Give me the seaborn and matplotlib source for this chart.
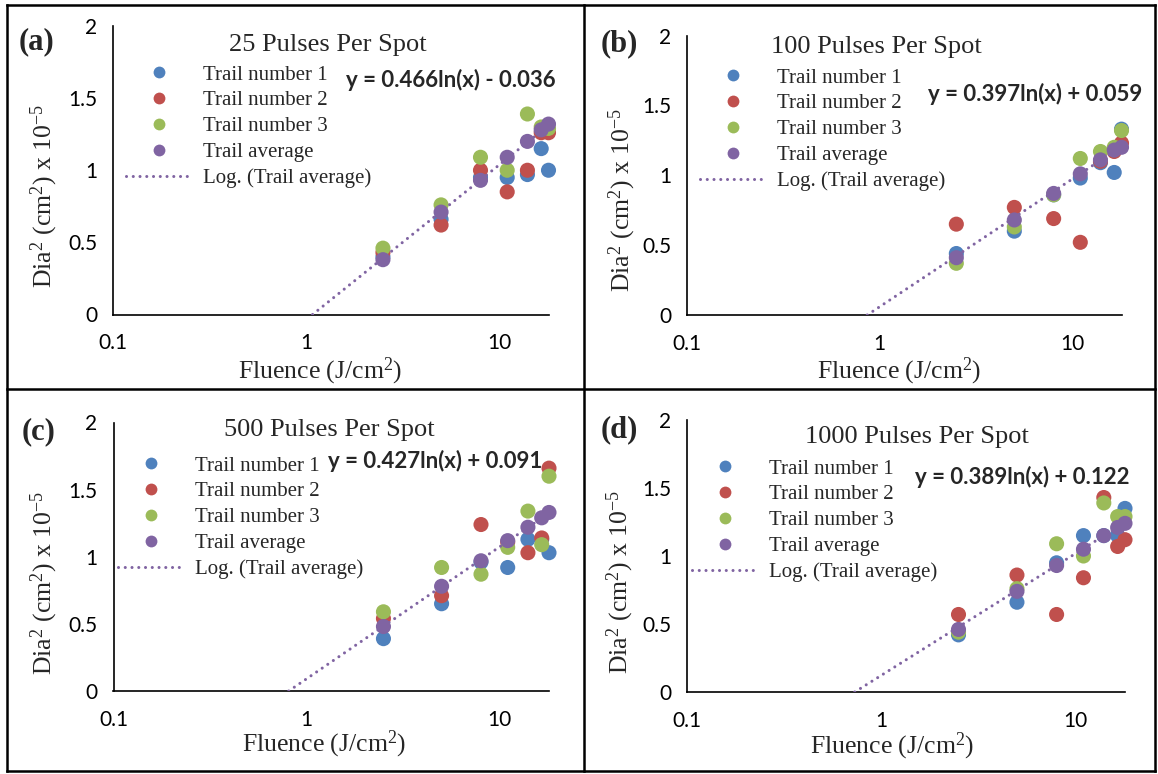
import numpy as np
import pandas as pd
import matplotlib
matplotlib.use("Agg")
import matplotlib.pyplot as plt
from matplotlib.lines import Line2D
from matplotlib.ticker import FixedLocator, FixedFormatter, LogLocator, NullFormatter, MultipleLocator
import seaborn as sns

# ---------------- data ----------------
fluence = [2.5, 5, 8, 11, 14, 16.5, 18]
series_names = ["Trail number 1", "Trail number 2", "Trail number 3", "Trail average"]

a_t1 = [0.40, 0.66, 0.95, 0.95, 0.97, 1.15, 1.00]
a_t2 = [0.43, 0.62, 1.00, 0.85, 1.00, 1.26, 1.26]
a_t3 = [0.46, 0.76, 1.09, 1.00, 1.39, 1.30, 1.29]
a_avg = [0.38, 0.71, 0.93, 1.09, 1.20, 1.28, 1.32]

b_t1 = [0.44, 0.60, 0.86, 0.98, 1.09, 1.02, 1.33]
b_t2 = [0.65, 0.77, 0.69, 0.52, 1.10, 1.17, 1.23]
b_t3 = [0.37, 0.63, 0.86, 1.12, 1.17, 1.20, 1.32]
b_avg = [0.41, 0.68, 0.87, 1.01, 1.11, 1.18, 1.20]

c_t1 = [0.39, 0.65, 0.96, 0.92, 1.13, 1.13, 1.03]
c_t2 = [0.54, 0.71, 1.24, 1.11, 1.03, 1.14, 1.66]
c_t3 = [0.59, 0.92, 0.87, 1.07, 1.34, 1.09, 1.60]
c_avg = [0.48, 0.78, 0.97, 1.12, 1.22, 1.29, 1.33]

d_t1 = [0.42, 0.66, 0.95, 1.15, 1.15, 1.15, 1.35]
d_t2 = [0.57, 0.86, 0.57, 0.84, 1.43, 1.07, 1.12]
d_t3 = [0.44, 0.76, 1.09, 1.00, 1.39, 1.29, 1.29]
d_avg = [0.46, 0.74, 0.93, 1.05, 1.15, 1.21, 1.24]

titles = ["25 Pulses Per Spot", "100 Pulses Per Spot", "500 Pulses Per Spot", "1000 Pulses Per Spot"]
letters = ["(a)", "(b)", "(c)", "(d)"]
equations = ["y = 0.466ln(x) - 0.036", "y = 0.397ln(x) + 0.059",
             "y = 0.427ln(x) + 0.091", "y = 0.389ln(x) + 0.122"]
fit_slope = [0.466, 0.397, 0.427, 0.389]
fit_icpt = [-0.036, 0.059, 0.091, 0.122]
trend_label = "Log. (Trail average)"

x_ticks = [0.1, 1, 10]
x_tick_labels = ["0.1", "1", "10"]
y_ticks = [0, 0.5, 1, 1.5, 2]
y_tick_labels = ["0", "0.5", "1", "1.5", "2"]
x_label = "Fluence (J/cm$^2$)"
y_label = "Dia$^2$ (cm$^2$) x 10$^{-5}$"

colors = ["#4F81BD", "#C0504D", "#9BBB59", "#8064A2"]

panels = [
    [a_t1, a_t2, a_t3, a_avg],
    [b_t1, b_t2, b_t3, b_avg],
    [c_t1, c_t2, c_t3, c_avg],
    [d_t1, d_t2, d_t3, d_avg],
]

# ---------------- layout (pixels) ----------------
W, H = 1158, 774
def fx(x):
    return x / W
def fy(y):
    return 1 - y / H

# axes rects: left, right, top, bottom (pixels)
ax_px = [(113, 548.5, 26, 314.5), (687, 1121.5, 35.5, 315),
         (113.5, 549, 422.5, 691), (687, 1125, 420, 692)]
letter_pos = [(37, 42), (619, 44), (39, 432), (619, 430)]
title_pos = [(328, 45), (876, 47), (329, 430), (917, 437)]
eq_pos = [(346, 80), (928, 94), (328, 461), (915, 477)]
legend_pos = [(126, 65), (700, 68), (118, 456), (692, 459)]
xlabel_pos = [(320, 371), (899, 371), (324, 744), (892, 746)]
ylabel_pos = [(44, 196), (622, 200), (44, 583), (620, 582)]

sns.set_style("white")
plt.rcParams["font.family"] = ["Liberation Serif", "DejaVu Serif"]
plt.rcParams["mathtext.fontset"] = "custom"
plt.rcParams["mathtext.rm"] = "Liberation Serif"
plt.rcParams["mathtext.it"] = "Liberation Serif:italic"
plt.rcParams["mathtext.bf"] = "Liberation Serif:bold"

fig = plt.figure(figsize=(W / 100, H / 100), dpi=100)
fig.patch.set_facecolor("white")

trend_style = dict(color="#8064A2", lw=2.2, ls=(0, (0.01, 2.2)), dash_capstyle="round")

for i, series in enumerate(panels):
    l, r, t, b = ax_px[i]
    ax = fig.add_axes([fx(l), fy(b), (r - l) / W, (b - t) / H])
    ax.set_facecolor("white")

    df = pd.DataFrame({
        "fluence": np.tile(fluence, 4),
        "dia2": np.concatenate(series),
        "series": np.repeat(series_names, len(fluence)),
    })
    sns.scatterplot(data=df, x="fluence", y="dia2", hue="series",
                    palette=dict(zip(series_names, colors)), s=118,
                    linewidth=0, alpha=1, legend=False, ax=ax, clip_on=False, zorder=3)

    x0 = np.exp(-fit_icpt[i] / fit_slope[i])
    xs = np.geomspace(x0, 18, 300)
    ys = fit_slope[i] * np.log(xs) + fit_icpt[i]
    ax.plot(xs, ys, zorder=4, **trend_style)

    ax.set_xscale("log")
    ax.set_xlim(0.1, 18)
    ax.set_ylim(0, 2)
    ax.xaxis.set_major_locator(FixedLocator(x_ticks))
    ax.xaxis.set_major_formatter(FixedFormatter(x_tick_labels))
    ax.xaxis.set_minor_locator(LogLocator(base=10, subs=np.arange(2, 10)))
    ax.xaxis.set_minor_formatter(NullFormatter())
    ax.yaxis.set_major_locator(FixedLocator(y_ticks))
    ax.yaxis.set_major_formatter(FixedFormatter(y_tick_labels))
    ax.yaxis.set_minor_locator(MultipleLocator(0.1))
    ax.set_xlabel("")
    ax.set_ylabel("")

    for s in ["top", "right"]:
        ax.spines[s].set_visible(False)
    for s in ["left", "bottom"]:
        ax.spines[s].set_color("black")
        ax.spines[s].set_linewidth(1.2)
    ax.tick_params(axis="x", which="both", direction="out", length=4.5, width=1.1,
                   color="black", pad=9, labelsize=15)
    ax.tick_params(axis="y", which="major", direction="out", length=4.5, width=1.1,
                   color="black", pad=7, labelsize=15)
    ax.tick_params(axis="y", which="minor", direction="out", length=4, width=1.1,
                   color="black")
    for lab in ax.get_xticklabels() + ax.get_yticklabels():
        lab.set_fontfamily("Lato")
        lab.set_color("black")
    ax.grid(False)

    handles = [Line2D([], [], marker="o", ls="", color=c, markersize=8.5,
                      markeredgewidth=0) for c in colors]
    handles.append(Line2D([], [], **trend_style))
    lx, ly = legend_pos[i]
    ax.legend(handles=handles, labels=series_names + [trend_label],
              loc="upper left", bbox_to_anchor=(fx(lx), fy(ly)),
              bbox_transform=fig.transFigure, frameon=False, borderpad=0,
              borderaxespad=0, handlelength=3.2, handletextpad=0.5,
              labelspacing=0.3, prop={"family": "Liberation Serif", "size": 15})

    fig.text(fx(letter_pos[i][0]), fy(letter_pos[i][1]), letters[i],
             fontsize=22, fontweight="bold", ha="center", va="center")
    fig.text(fx(title_pos[i][0]), fy(title_pos[i][1]), titles[i],
             fontsize=19, ha="center", va="center")
    fig.text(fx(eq_pos[i][0]), fy(eq_pos[i][1]), equations[i],
             fontsize=16, fontweight="bold", family="Lato", ha="left", va="center")
    fig.text(fx(xlabel_pos[i][0]), fy(xlabel_pos[i][1]), x_label,
             fontsize=18.5, ha="center", va="center")
    fig.text(fx(ylabel_pos[i][0]), fy(ylabel_pos[i][1]), y_label,
             fontsize=18.5, ha="center", va="center", rotation=90)

# panel borders
bl = 1.8
L, R, T, B = 7, 1155, 5, 771
MX, MY = 583.5, 389
for (x1, y1, x2, y2) in [(L, T, R, T), (L, B, R, B), (L, T, L, B), (R, T, R, B),
                         (MX, T, MX, B), (L, MY, R, MY)]:
    fig.add_artist(Line2D([fx(x1), fx(x2)], [fy(y1), fy(y2)], color="black",
                          lw=bl, transform=fig.transFigure, solid_capstyle="projecting"))

fig.savefig("out.png", dpi=100, facecolor="white")
